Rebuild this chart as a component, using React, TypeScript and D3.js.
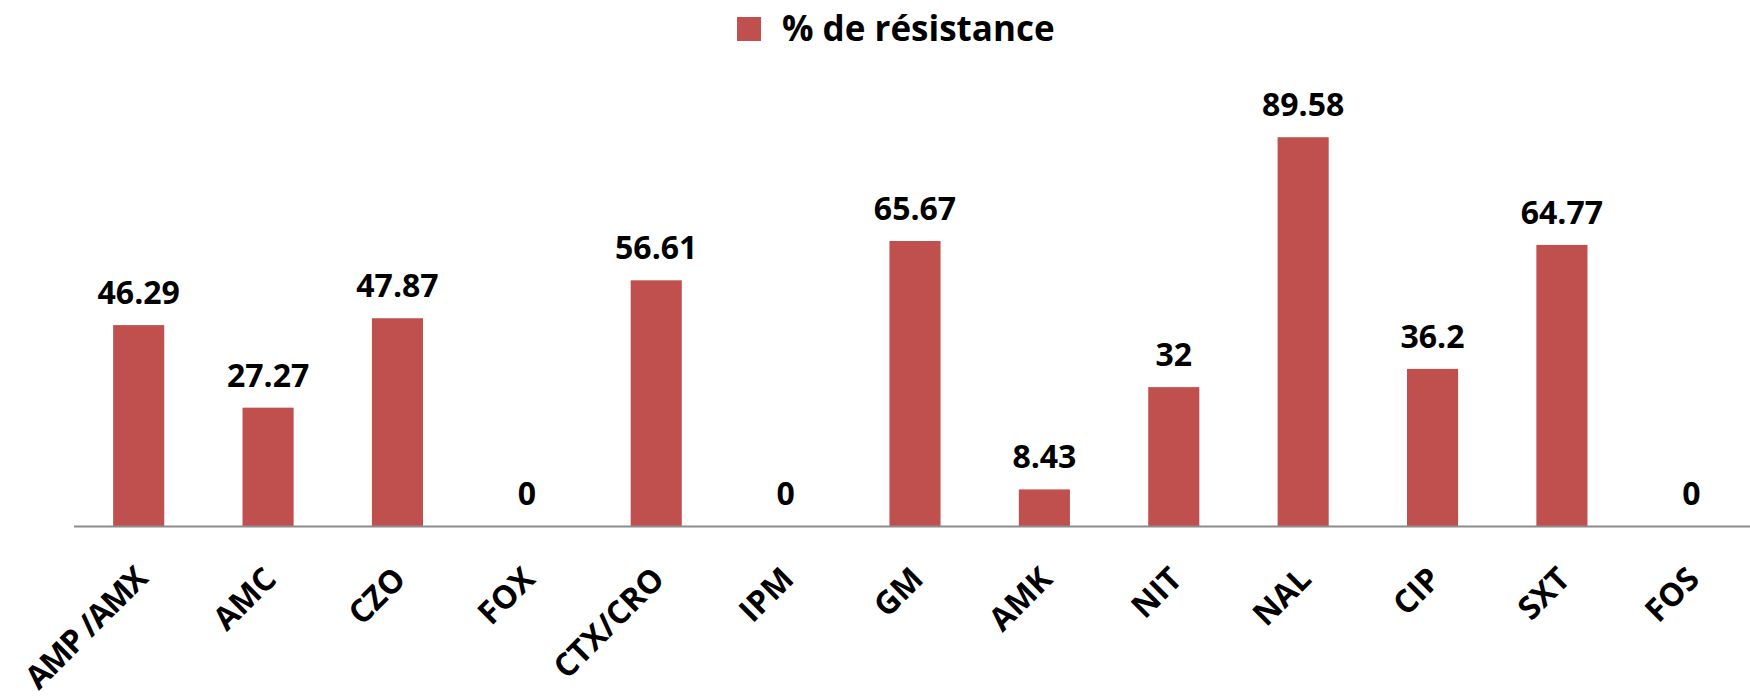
import React from "react";
import * as d3 from "d3";

const categories = ["AMP /AMX", "AMC", "CZO", "FOX", "CTX/CRO", "IPM", "GM", "AMK", "NIT", "NAL", "CIP", "SXT", "FOS"];
const values = [46.29, 27.27, 47.87, 0, 56.61, 0, 65.67, 8.43, 32, 89.58, 36.2, 64.77, 0];
const valueLabels = ["46.29", "27.27", "47.87", "0", "56.61", "0", "65.67", "8.43", "32", "89.58", "36.2", "64.77", "0"];
const seriesName = "% de résistance";

const W = 1750;
const H = 698;
const FONT = "'Open Sans', 'Noto Sans', sans-serif";
const BAR = "#C0504D";

export default function App() {
  const x = d3.scaleBand<string>().domain(categories).range([74, 1756]).paddingInner(0.605).paddingOuter(0.3025);
  const y = d3.scaleLinear().domain([0, 100]).range([526, 92]);
  const axisY = y(0);

  return (
    <svg width={W} height={H} style={{ position: "absolute", left: 0, top: 0, background: "#fff" }} xmlns="http://www.w3.org/2000/svg">
      <rect x={0} y={0} width={W} height={H} fill="#fff" />
      {/* legend */}
      <rect x={737} y={17} width={24} height={24} fill={BAR} />
      <text x={782} y={41} fontFamily={FONT} fontWeight={700} fontSize={35} fill="#000">{seriesName}</text>
      {/* bars */}
      {categories.map((c, i) => (
        <rect key={c} x={x(c)} y={y(values[i])} width={x.bandwidth()} height={axisY - y(values[i])} fill={BAR} />
      ))}
      {/* axis */}
      <line x1={74} x2={W} y1={axisY + 0.5} y2={axisY + 0.5} stroke="#8c8c8c" strokeWidth={2} />
      {/* value labels */}
      {categories.map((c, i) => (
        <text key={"v" + c} x={(x(c) as number) + x.bandwidth() / 2} y={y(values[i]) - 21} textAnchor="middle" fontFamily={FONT} fontWeight={700} fontSize={32} fill="#000">
          {valueLabels[i]}
        </text>
      ))}
      {/* category labels */}
      {categories.map((c) => {
        const cx = (x(c) as number) + x.bandwidth() / 2;
        return (
          <text key={"c" + c} transform={`translate(${cx + 10},${axisY + 55}) rotate(-45)`} textAnchor="end" fontFamily={FONT} fontWeight={700} fontSize={32} letterSpacing={c.length > 7 ? -1.5 : 0} fill="#000">
            {c}
          </text>
        );
      })}
    </svg>
  );
}
